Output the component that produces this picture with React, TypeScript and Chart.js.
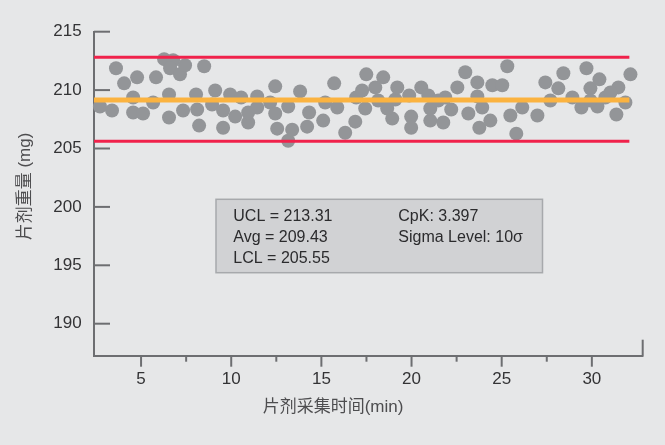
import React, { useEffect, useRef } from "react";
import { Chart, registerables } from "chart.js";

Chart.register(...registerables);

// ---- data ----
const TIME_MIN = [
  2.72, 3.39, 3.61, 4.06, 4.78, 4.56, 4.56, 5.11, 5.67, 5.83,
  6.28, 6.78, 6.61, 7.16, 7.44, 6.55, 6.55, 7.33, 8.05, 8.11,
  8.22, 8.5, 8.94, 9.11, 9.55, 9.55, 9.94, 10.22, 10.55, 10.94,
  10.94, 11.44, 11.44, 12.16, 12.44, 12.44, 12.55, 13.16, 13.38, 13.16,
  13.82, 14.32, 14.21, 15.1, 15.21, 15.71, 15.88, 16.32, 16.88, 16.93,
  17.26, 17.49, 17.99, 18.15, 18.43, 18.93, 19.1, 19.21, 19.87, 19.98,
  19.98, 20.54, 20.93, 21.04, 21.04, 21.76, 21.87, 22.2, 22.54, 22.98,
  23.15, 23.65, 23.65, 23.76, 23.92, 24.37, 24.48, 25.03, 25.31, 25.48,
  25.81, 26.14, 26.98, 27.42, 27.7, 28.14, 28.42, 28.92, 29.42, 29.7,
  29.92, 30.42, 30.31, 30.75, 31.47, 31.36, 31.86, 32.14,
  17.43, 18.65, 21.48, 29.92, 31.03,
];
const WEIGHT_MG = [
  208.59, 208.25, 211.87, 210.58, 211.09, 209.37, 208.08, 208.0, 208.94, 211.09,
  212.65, 212.56, 211.87, 211.35, 212.13, 209.63, 207.65, 208.25, 209.63, 208.34,
  206.96, 212.04, 208.77, 209.97, 206.78, 208.25, 209.63, 207.73, 209.37, 207.22,
  208.08, 209.46, 208.51, 208.94, 210.32, 208.0, 206.7, 205.66, 206.61, 208.59,
  209.89, 208.08, 206.87, 207.39, 208.94, 210.58, 208.51, 206.35, 207.3, 209.37,
  209.97, 211.35, 210.23, 209.11, 211.09, 207.56, 209.2, 210.23, 209.54, 207.73,
  206.78, 210.23, 209.54, 207.39, 208.42, 207.22, 209.37, 208.34, 210.23, 211.53,
  208.0, 210.66, 209.46, 206.78, 208.51, 207.39, 210.41, 210.41, 212.04, 207.82,
  206.27, 208.51, 207.82, 210.66, 209.11, 210.15, 211.44, 209.37, 208.51, 211.87,
  210.15, 210.92, 208.59, 209.37, 210.23, 207.91, 208.94, 211.35,
  208.42, 208.42, 209.11, 209.11, 209.8,
];

const LIMIT_SPAN = [2.39, 32.08];
const UCL_LINE = 212.81;
const AVG_LINE = 209.15;
const LCL_LINE = 205.62;

const X_RANGE = [2.39, 32.82];
const Y_RANGE = [187.26, 215];
const X_MAJOR = [5, 10, 15, 20, 25, 30];
const X_MINOR = [7.5, 12.5, 17.5, 22.5, 27.5];
const Y_TICKS = [190, 195, 200, 205, 210, 215];

const INFO_LEFT = ["UCL = 213.31", "Avg = 209.43", "LCL = 205.55"];
const INFO_RIGHT = ["CpK: 3.397", "Sigma Level: 10σ"];

const X_TITLE = "片剂采集时间(min)";
const Y_TITLE = "片剂重量 (mg)";

// ---- styles ----
const BG = "#e6e7e8";
const AXIS = "#6d6e71";
const DOT = "#939598";
const RED = "#f0224b";
const ORANGE = "#fbb340";
const TEXT = "#2b2b2d";
const FONT = '"Liberation Sans", Arial, "Noto Sans CJK SC", sans-serif';

const decorPlugin = {
  id: "decor",
  beforeDraw(chart: any) {
    const { ctx, width, height } = chart;
    ctx.save();
    ctx.fillStyle = BG;
    ctx.fillRect(0, 0, width, height);
    ctx.restore();
  },
  afterDraw(chart: any) {
    const { ctx, chartArea: ca, scales } = chart;
    const xs = scales.x;
    const ys = scales.y;
    ctx.save();
    ctx.strokeStyle = AXIS;
    ctx.lineWidth = 2;
    const line = (x1: number, y1: number, x2: number, y2: number) => {
      ctx.beginPath();
      ctx.moveTo(x1, y1);
      ctx.lineTo(x2, y2);
      ctx.stroke();
    };
    for (const v of Y_TICKS) {
      const py = ys.getPixelForValue(v);
      line(ca.left, py, ca.left + 16, py);
    }
    for (const v of X_MAJOR) {
      const px = xs.getPixelForValue(v);
      line(px, ca.bottom, px, ca.bottom + 11);
    }
    for (const v of X_MINOR) {
      const px = xs.getPixelForValue(v);
      line(px, ca.bottom, px, ca.bottom + 6);
    }
    line(ca.right, ca.bottom + 1, ca.right, ca.bottom - 16);

    // info box
    const bx = ca.left + 122;
    const by = ca.top + 167.6;
    const bw = 326.5;
    const bh = 73.4;
    ctx.fillStyle = "#d1d2d4";
    ctx.fillRect(bx, by, bw, bh);
    ctx.strokeStyle = "#a7a9ac";
    ctx.lineWidth = 1.5;
    ctx.strokeRect(bx, by, bw, bh);
    ctx.fillStyle = TEXT;
    ctx.font = `16px ${FONT}`;
    ctx.textAlign = "left";
    ctx.textBaseline = "alphabetic";
    INFO_LEFT.forEach((t, i) => ctx.fillText(t, bx + 17.3, by + 21.4 + i * 21.3));
    INFO_RIGHT.forEach((t, i) => ctx.fillText(t, bx + 182.3, by + 21.4 + i * 21.3));

    // axis titles
    ctx.fillStyle = "#4d4d4f";
    ctx.font = `17px ${FONT}`;
    ctx.textAlign = "center";
    ctx.textBaseline = "middle";
    ctx.fillText(X_TITLE, 333, ca.bottom + 52);
    ctx.save();
    ctx.translate(25, 186.5);
    ctx.rotate(-Math.PI / 2);
    ctx.fillText(Y_TITLE, 0, 0);
    ctx.restore();
    ctx.restore();
  },
};

export default function App() {
  const ref = useRef<HTMLCanvasElement | null>(null);
  useEffect(() => {
    if (!ref.current) return;
    const points = TIME_MIN.map((x, i) => ({ x, y: WEIGHT_MG[i] }));
    const hline = (v: number) => LIMIT_SPAN.map((x) => ({ x, y: v }));
    const chart = new Chart(ref.current, {
      type: "scatter",
      data: {
        datasets: [
          {
            type: "line",
            label: "UCL",
            data: hline(UCL_LINE),
            borderColor: RED,
            borderWidth: 3,
            pointRadius: 0,
            order: 0,
          },
          {
            type: "line",
            label: "LCL",
            data: hline(LCL_LINE),
            borderColor: RED,
            borderWidth: 3,
            pointRadius: 0,
            order: 0,
          },
          {
            type: "line",
            label: "Avg",
            data: hline(AVG_LINE),
            borderColor: ORANGE,
            borderWidth: 5,
            pointRadius: 0,
            order: 0,
          },
          {
            label: "weight",
            data: points,
            backgroundColor: DOT,
            borderWidth: 0,
            pointRadius: 7,
            pointHoverRadius: 7,
            clip: false as any,
            order: 1,
          },
        ] as any,
      },
      options: {
        animation: false,
        responsive: true,
        maintainAspectRatio: false,
        events: [],
        layout: { padding: { left: 0, top: 31.7, right: 22.3, bottom: 0 } },
        plugins: { legend: { display: false }, tooltip: { enabled: false } },
        scales: {
          x: {
            type: "linear",
            min: X_RANGE[0],
            max: X_RANGE[1],
            afterBuildTicks: (s: any) => {
              s.ticks = X_MAJOR.map((v) => ({ value: v }));
            },
            afterFit: (s: any) => {
              s.height = 89.3;
            },
            grid: { display: false, drawTicks: false },
            border: { display: true, color: AXIS, width: 2 },
            ticks: {
              autoSkip: false,
              maxRotation: 0,
              padding: 13,
              color: "#333335",
              font: { family: FONT, size: 17 },
            },
          },
          y: {
            type: "linear",
            min: Y_RANGE[0],
            max: Y_RANGE[1],
            afterBuildTicks: (s: any) => {
              s.ticks = Y_TICKS.map((v) => ({ value: v }));
            },
            afterFit: (s: any) => {
              s.width = 94;
            },
            grid: { display: false, drawTicks: false },
            border: { display: true, color: AXIS, width: 2 },
            ticks: {
              autoSkip: false,
              padding: 12.3,
              color: "#333335",
              font: { family: FONT, size: 17 },
            },
          },
        },
      },
      plugins: [decorPlugin],
    });
    return () => chart.destroy();
  }, []);
  return (
    <div style={{ position: "absolute", left: 0, top: 0, width: 665, height: 445, background: BG }}>
      <canvas ref={ref} />
    </div>
  );
}
